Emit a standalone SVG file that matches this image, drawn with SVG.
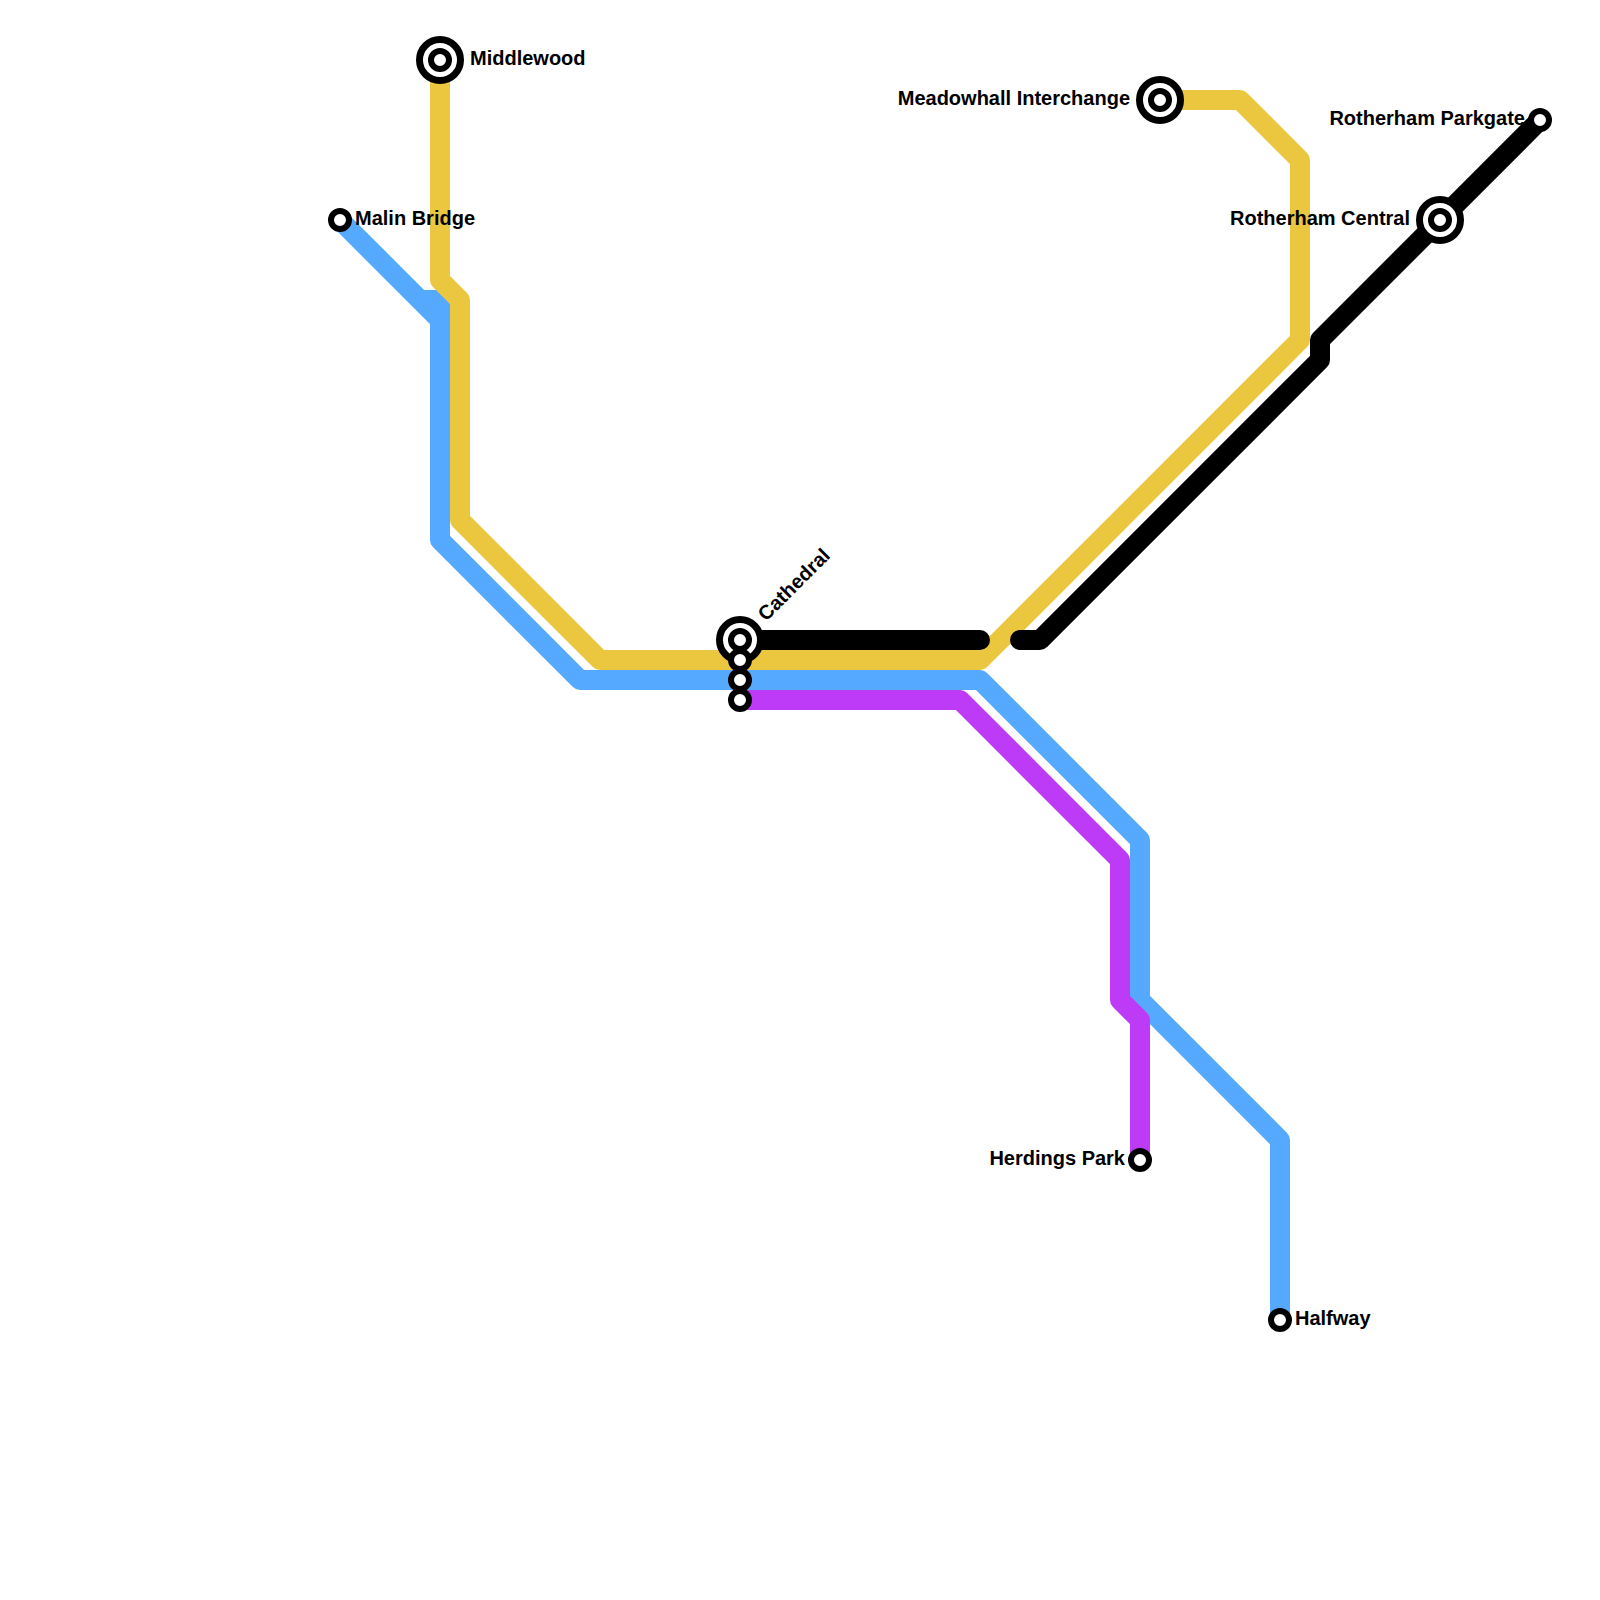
<svg xmlns="http://www.w3.org/2000/svg" width="1600" height="1600" viewBox="0 0 1600 1600">
<style>
.l{fill:none;stroke-width:20;stroke-linejoin:round;stroke-linecap:butt}
.b{stroke:#55a9ff}.p{stroke:#bd3af6}.y{stroke:#ebc740}.k{stroke:#000}
.rc{stroke-linecap:round}
.o{fill:#fff;stroke:#000;stroke-width:7}
.s{fill:#fff;stroke:#000;stroke-width:6}
text{font-family:"Liberation Sans",Arial,sans-serif;font-weight:700;font-size:20px;fill:#000}
.e{text-anchor:end}
</style>
<rect width="1600" height="1600" fill="#fff"/>
<g id="connectors">
<path class="l b" d="M340 220L440 320V540L580 680H980L1140 840V1000L1280 1140V1320"/>
<path class="l b" style="stroke-linejoin:miter" d="M420 300H440V320"/>
<path class="l p" d="M740 700H960L1120 860V1000L1140 1020V1160"/>
<path class="l y" d="M440 60V280L460 300V520L600 660H980L1300 340V160L1240 100H1160"/>
<path class="l k rc" d="M740 640H980"/>
<path class="l k rc" d="M1020 640H1040L1320 360V340L1540 120"/>
</g>
<g id="st-middlewood"><circle class="o" cx="440" cy="60" r="20.5"/><circle class="s" cx="440" cy="60" r="9"/><text x="470" y="65">Middlewood</text></g>
<g id="st-malin-bridge"><circle class="s" cx="340" cy="220" r="9"/><text x="355" y="225">Malin Bridge</text></g>
<g id="st-meadowhall"><circle class="o" cx="1160" cy="100" r="20.5"/><circle class="s" cx="1160" cy="100" r="9"/><text class="e" x="1130" y="105">Meadowhall Interchange</text></g>
<g id="st-parkgate"><circle class="s" cx="1540" cy="120" r="9"/><text class="e" x="1525" y="125">Rotherham Parkgate</text></g>
<g id="st-central"><circle class="o" cx="1440" cy="220" r="20.5"/><circle class="s" cx="1440" cy="220" r="9"/><text class="e" x="1410" y="225">Rotherham Central</text></g>
<g id="st-cathedral"><circle class="o" cx="740" cy="640" r="20.5"/><circle class="s" cx="740" cy="640" r="9"/><text transform="translate(766 622) rotate(-45)">Cathedral</text></g>
<g id="st-cathedral-y"><circle class="s" cx="740" cy="660" r="9"/></g>
<g id="st-cathedral-b"><circle class="s" cx="740" cy="680" r="9"/></g>
<g id="st-cathedral-p"><circle class="s" cx="740" cy="700" r="9"/></g>
<g id="st-herdings"><circle class="s" cx="1140" cy="1160" r="9"/><text class="e" x="1125" y="1165">Herdings Park</text></g>
<g id="st-halfway"><circle class="s" cx="1280" cy="1320" r="9"/><text x="1295" y="1325">Halfway</text></g>
</svg>
